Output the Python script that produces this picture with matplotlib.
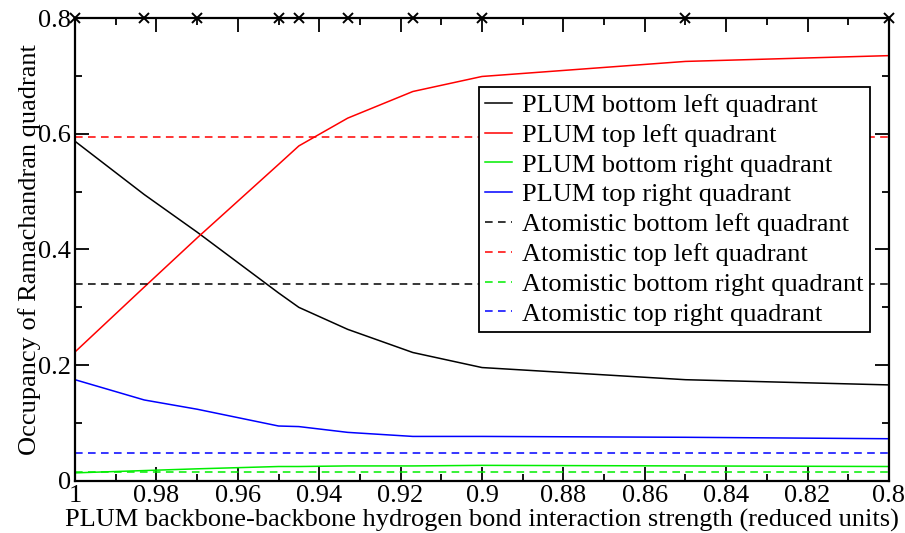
import matplotlib.pyplot as plt
from matplotlib.ticker import MultipleLocator

plt.rcParams["font.family"] = ["Liberation Serif", "DejaVu Serif"]

# interaction strength values (reduced units)
strength = [1.0, 0.983, 0.97, 0.95, 0.945, 0.933, 0.917, 0.9, 0.85, 0.8]

# PLUM occupancies per quadrant
plum_bottom_left = [0.587, 0.495, 0.430, 0.325, 0.300, 0.262, 0.222, 0.196, 0.175, 0.166]
plum_top_left = [0.223, 0.335, 0.420, 0.547, 0.579, 0.627, 0.673, 0.699, 0.725, 0.735]
plum_bottom_right = [0.014, 0.018, 0.021, 0.025, 0.025, 0.026, 0.026, 0.027, 0.026, 0.025]
plum_top_right = [0.175, 0.140, 0.124, 0.095, 0.094, 0.084, 0.077, 0.077, 0.0755, 0.073]

# atomistic reference occupancies
atom_bottom_left = 0.340
atom_top_left = 0.595
atom_bottom_right = 0.015
atom_top_right = 0.048

# sampled points marker row
marker_level = 0.8

fig = plt.figure(figsize=(9.05, 5.33), dpi=100)
ax = fig.add_axes([0.0829, 0.0976, 0.8994, 0.8686])

lw = 1.1
ax.plot(strength, plum_bottom_left, color="black", lw=lw, label="PLUM bottom left quadrant")
ax.plot(strength, plum_top_left, color="red", lw=lw, label="PLUM top left quadrant")
ax.plot(strength, plum_bottom_right, color="#00ee00", lw=lw, label="PLUM bottom right quadrant")
ax.plot(strength, plum_top_right, color="blue", lw=lw, label="PLUM top right quadrant")

dash = (0, (5, 3.5))
ax.axhline(atom_bottom_left, color="black", lw=lw, ls=dash, label="Atomistic bottom left quadrant")
ax.axhline(atom_top_left, color="red", lw=lw, ls=dash, label="Atomistic top left quadrant")
ax.axhline(atom_bottom_right, color="#00ee00", lw=lw, ls=dash, label="Atomistic bottom right quadrant")
ax.axhline(atom_top_right, color="blue", lw=lw, ls=dash, label="Atomistic top right quadrant")

ax.plot(strength, [marker_level] * len(strength), color="black", lw=0,
        marker="x", ms=7, mew=1.4, clip_on=False, zorder=5)

ax.set_xlim(1.0, 0.8)
ax.set_ylim(0, 0.8)
ax.xaxis.set_major_locator(MultipleLocator(0.02))
ax.xaxis.set_minor_locator(MultipleLocator(0.01))
ax.yaxis.set_major_locator(MultipleLocator(0.2))
ax.yaxis.set_minor_locator(MultipleLocator(0.1))
ax.xaxis.set_major_formatter(plt.FuncFormatter(lambda v, p: f"{v:g}"))
ax.yaxis.set_major_formatter(plt.FuncFormatter(lambda v, p: f"{v:g}"))

ax.tick_params(which="both", direction="in", top=True, right=True,
               labelsize=19, width=1.3)
ax.tick_params(which="major", length=10, pad=3)
ax.tick_params(which="minor", length=5)
for s in ax.spines.values():
    s.set_linewidth(1.6)

ax.set_xlabel("PLUM backbone-backbone hydrogen bond interaction strength (reduced units)",
              fontsize=19, labelpad=1)
ax.set_ylabel("Occupancy of Ramachandran quadrant", fontsize=19, labelpad=-2)

leg = ax.legend(loc="upper left", bbox_to_anchor=(0.496, 0.851), fontsize=19,
                frameon=True, fancybox=False, edgecolor="black", framealpha=1,
                handlelength=1.0, handletextpad=0.4, labelspacing=0.24,
                borderpad=0.25, borderaxespad=0)
leg.get_frame().set_linewidth(1.3)

fig.savefig("out.png", dpi=100)
